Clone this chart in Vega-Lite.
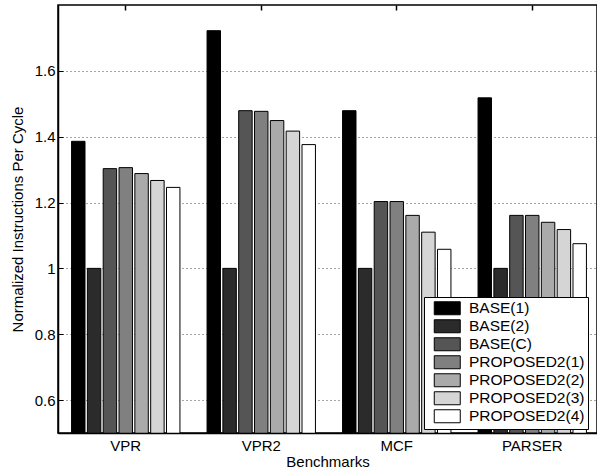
{
  "$schema": "https://vega.github.io/schema/vega-lite/v6.json",
  "width": 539,
  "height": 428,
  "autosize": {"type": "none"},
  "padding": {"left": 58, "top": 5, "right": 0, "bottom": 38},
  "background": "white",
  "config": {
    "font": "Liberation Sans",
    "view": {"stroke": "#000", "strokeWidth": 1.5},
    "axis": {"labelColor": "#000", "titleColor": "#000", "labelFont": "Liberation Sans", "titleFont": "Liberation Sans", "titleFontWeight": "normal"}
  },
  "data": {
    "values": [
      {"benchmark": "VPR", "config": "BASE(1)", "ipc": 1.386},
      {"benchmark": "VPR", "config": "BASE(2)", "ipc": 1.0},
      {"benchmark": "VPR", "config": "BASE(C)", "ipc": 1.303},
      {"benchmark": "VPR", "config": "PROPOSED2(1)", "ipc": 1.306},
      {"benchmark": "VPR", "config": "PROPOSED2(2)", "ipc": 1.288},
      {"benchmark": "VPR", "config": "PROPOSED2(3)", "ipc": 1.267},
      {"benchmark": "VPR", "config": "PROPOSED2(4)", "ipc": 1.246},
      {"benchmark": "VPR2", "config": "BASE(1)", "ipc": 1.722},
      {"benchmark": "VPR2", "config": "BASE(2)", "ipc": 1.0},
      {"benchmark": "VPR2", "config": "BASE(C)", "ipc": 1.479},
      {"benchmark": "VPR2", "config": "PROPOSED2(1)", "ipc": 1.477},
      {"benchmark": "VPR2", "config": "PROPOSED2(2)", "ipc": 1.449},
      {"benchmark": "VPR2", "config": "PROPOSED2(3)", "ipc": 1.417},
      {"benchmark": "VPR2", "config": "PROPOSED2(4)", "ipc": 1.376},
      {"benchmark": "MCF", "config": "BASE(1)", "ipc": 1.479},
      {"benchmark": "MCF", "config": "BASE(2)", "ipc": 1.0},
      {"benchmark": "MCF", "config": "BASE(C)", "ipc": 1.203},
      {"benchmark": "MCF", "config": "PROPOSED2(1)", "ipc": 1.203},
      {"benchmark": "MCF", "config": "PROPOSED2(2)", "ipc": 1.161},
      {"benchmark": "MCF", "config": "PROPOSED2(3)", "ipc": 1.110},
      {"benchmark": "MCF", "config": "PROPOSED2(4)", "ipc": 1.058},
      {"benchmark": "PARSER", "config": "BASE(1)", "ipc": 1.518},
      {"benchmark": "PARSER", "config": "BASE(2)", "ipc": 1.0},
      {"benchmark": "PARSER", "config": "BASE(C)", "ipc": 1.161},
      {"benchmark": "PARSER", "config": "PROPOSED2(1)", "ipc": 1.161},
      {"benchmark": "PARSER", "config": "PROPOSED2(2)", "ipc": 1.140},
      {"benchmark": "PARSER", "config": "PROPOSED2(3)", "ipc": 1.118},
      {"benchmark": "PARSER", "config": "PROPOSED2(4)", "ipc": 1.075}
    ]
  },
  "layer": [
    {
      "mark": {"type": "bar", "stroke": "#000", "strokeWidth": 1, "clip": true},
      "encoding": {
        "x": {
          "field": "benchmark", "type": "nominal", "sort": ["VPR", "VPR2", "MCF", "PARSER"],
          "scale": {"paddingInner": 0.2, "paddingOuter": 0.089, "align": 0.562},
          "axis": {"orient": "bottom", "title": "Benchmarks", "labelAngle": 0, "labelFontSize": 15, "titleFontSize": 15, "ticks": false, "domain": true, "domainColor": "#000", "domainWidth": 1.5, "zindex": 1, "labelPadding": 5, "titlePadding": 1}
        },
        "xOffset": {
          "field": "config", "type": "nominal",
          "sort": ["BASE(1)", "BASE(2)", "BASE(C)", "PROPOSED2(1)", "PROPOSED2(2)", "PROPOSED2(3)", "PROPOSED2(4)"],
          "scale": {"paddingInner": 0.15, "paddingOuter": 0}
        },
        "y": {
          "field": "ipc", "type": "quantitative",
          "scale": {"domain": [0.5, 1.8], "zero": false, "nice": false},
          "axis": {"title": "Normalized Instructions Per Cycle", "values": [0.6, 0.8, 1.0, 1.2, 1.4, 1.6], "format": ".1~f", "labelFontSize": 15, "titleFontSize": 15, "tickSize": -5, "tickColor": "#000", "tickWidth": 1, "labelPadding": 8, "titlePadding": 9, "domain": true, "domainColor": "#000", "domainWidth": 1.5, "grid": true, "gridDash": [1, 3], "gridColor": "#000", "gridOpacity": 0.7}
        },
        "color": {
          "field": "config", "type": "nominal",
          "sort": ["BASE(1)", "BASE(2)", "BASE(C)", "PROPOSED2(1)", "PROPOSED2(2)", "PROPOSED2(3)", "PROPOSED2(4)"],
          "scale": {
            "domain": ["BASE(1)", "BASE(2)", "BASE(C)", "PROPOSED2(1)", "PROPOSED2(2)", "PROPOSED2(3)", "PROPOSED2(4)"],
            "range": ["#000000", "#2b2b2b", "#555555", "#808080", "#aaaaaa", "#d5d5d5", "#ffffff"]
          },
          "legend": {
            "orient": "none", "legendX": 366, "legendY": 292, "title": null, "zindex": 2,
            "fillColor": "#fff", "strokeColor": "#000", "padding": 3.5,
            "symbolType": "M-2,-1L2,-1L2,1L-2,1Z", "symbolSize": 169, "symbolStrokeColor": "#000", "symbolStrokeWidth": 1, "symbolOpacity": 1,
            "symbolOffset": 12, "labelOffset": 14, "rowPadding": 0,
            "labelFontSize": 15.5, "labelColor": "#000", "labelFont": "Liberation Sans"
          }
        }
      }
    },
    {
      "mark": {"type": "bar", "opacity": 0},
      "encoding": {
        "x": {
          "field": "benchmark", "type": "nominal", "sort": ["VPR", "VPR2", "MCF", "PARSER"],
          "axis": {"orient": "top", "title": null, "labels": false, "domain": false, "ticks": true, "tickSize": -5, "tickColor": "#000", "tickWidth": 1.5, "zindex": 1}
        }
      }
    }
  ],
  "resolve": {"axis": {"x": "independent"}}
}
